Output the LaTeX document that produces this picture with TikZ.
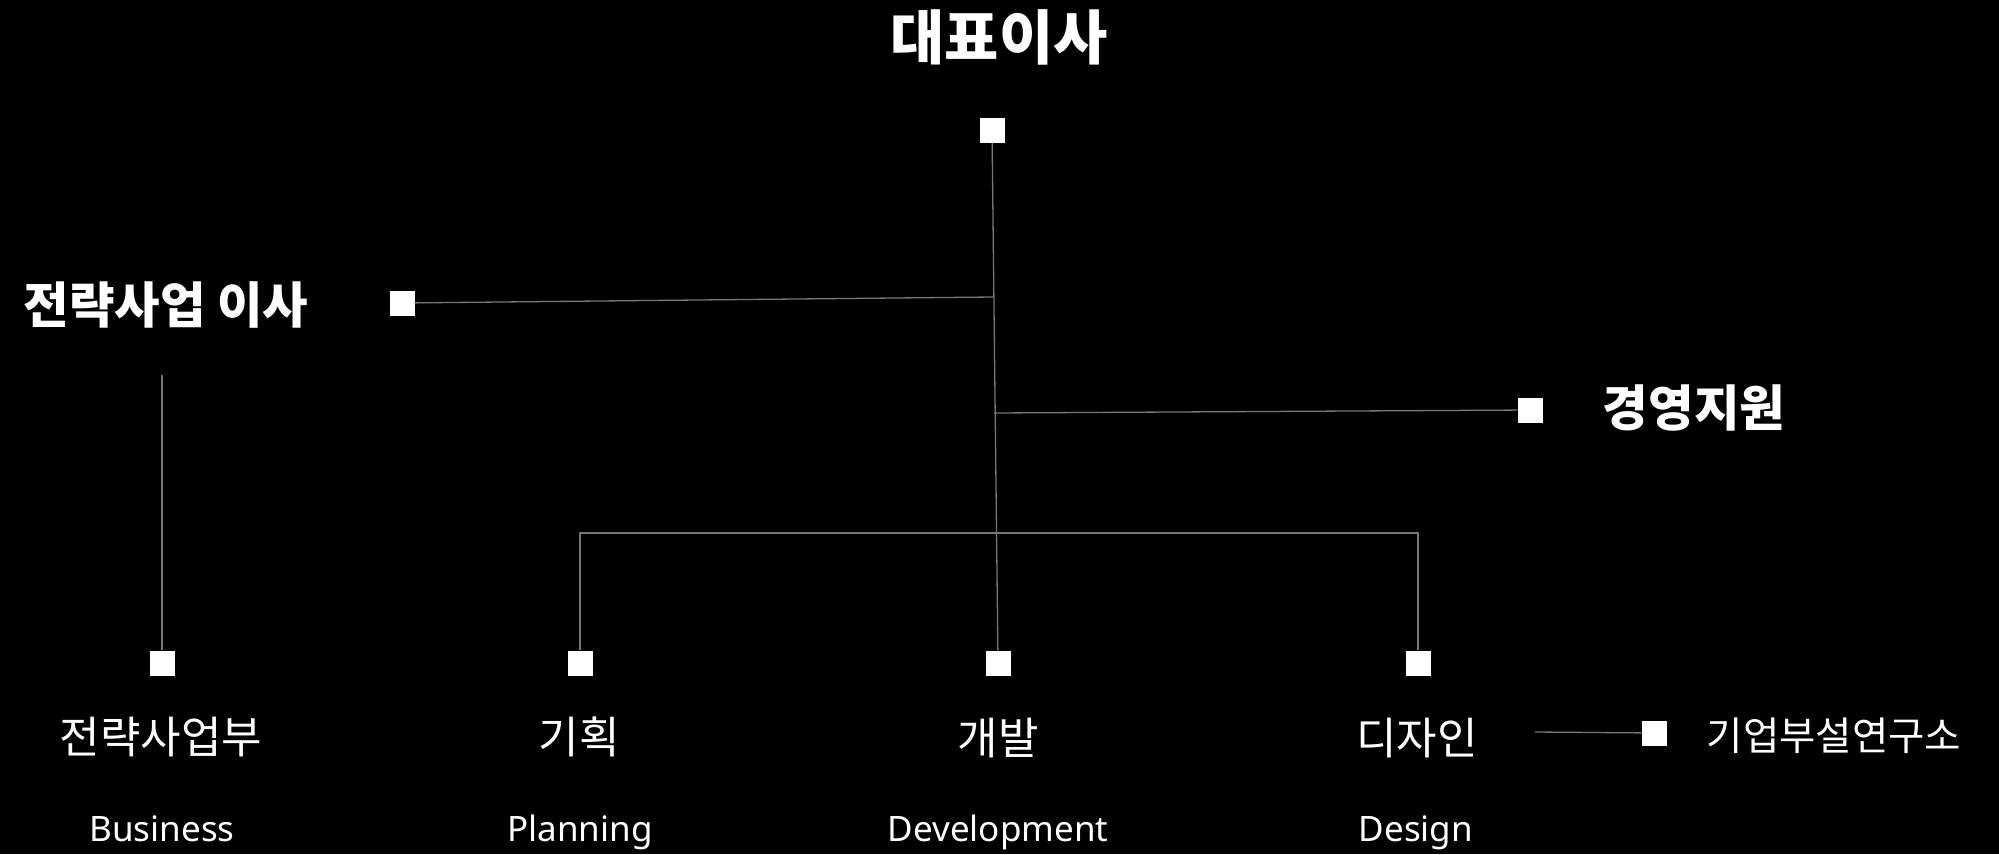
\documentclass[tikz,border=0pt]{standalone}
\usepackage{fontspec}
\newfontfamily\kr{Noto Sans CJK KR}
\newfontfamily\enl{Noto Sans}
\definecolor{linegray}{HTML}{767676}
\tikzset{
  sq/.style={fill=white, draw=none, minimum size=25pt, inner sep=0pt},
  conn/.style={draw=linegray, line width=1.3pt},
  txt/.style={text=white, inner sep=0pt},
  head/.style={txt, font=\kr\bfseries\fontsize{49.5}{54}\selectfont},
  unit/.style={txt, font=\kr\fontsize{44}{48}\selectfont},
  eng/.style={txt, anchor=base, font=\enl\fontsize{35}{40}\selectfont},
}
\begin{document}
\begin{tikzpicture}[x=1pt, y=-1pt]
\fill[black] (0,0) rectangle (1999,854);
\useasboundingbox (0,0) rectangle (1999,854);
% texts
\node[txt, font=\kr\bfseries\fontsize{59}{64}\selectfont] (ceo) at (999,37) {대표이사};
\node[head] (dir) at (166,305) {전략사업 이사};
\node[head] (mgmt) at (1694,408) {경영지원};
\node[unit] (biz) at (161,737) {전략사업부};
\node[unit] (plan) at (579,737) {기획};
\node[unit] (dev) at (998,738) {개발};
\node[unit] (des) at (1417,738) {디자인};
\node[txt, font=\kr\fontsize{39.5}{43}\selectfont] (lab) at (1834,736) {기업부설연구소};
\node[eng] (bizE) at (162,841) {Business};
\node[eng] (planE) at (580,841) {Planning};
\node[eng] (devE) at (998,841) {Development};
\node[eng] (desE) at (1416,841) {Design};
% squares
\node[sq] (ceoSq) at (992,130) {};
\node[sq] (dirSq) at (402,303) {};
\node[sq] (mgmtSq) at (1530,410) {};
\node[sq] (bizSq) at (162,663) {};
\node[sq] (planSq) at (580,663) {};
\node[sq] (devSq) at (998,663) {};
\node[sq] (desSq) at (1418,663) {};
\node[sq] (labSq) at (1654,733) {};
% junctions
\coordinate (j1) at (993,297);
\coordinate (j2) at (994,413);
\coordinate (jb) at (996,533);
\coordinate (bt) at (162,375);
\coordinate (dl) at (1535,732);
% connectors
\draw[conn] (ceoSq) -- (devSq);
\draw[conn] (dirSq) -- (j1);
\draw[conn] (j2) -- (mgmtSq);
\draw[conn] (planSq) -- (planSq |- jb) -- (desSq |- jb) -- (desSq);
\draw[conn] (bt) -- (bizSq);
\draw[conn] (dl) -- (labSq);
\end{tikzpicture}
\end{document}
